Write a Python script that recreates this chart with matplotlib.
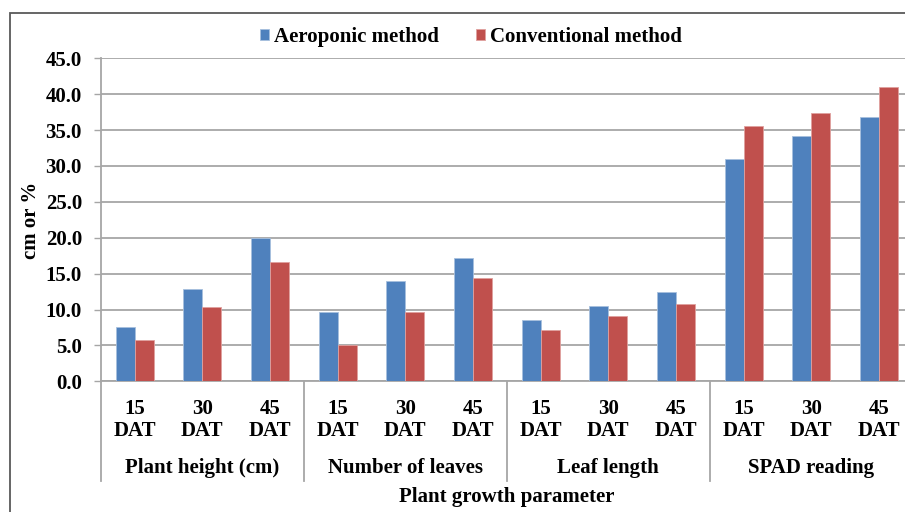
import matplotlib
matplotlib.use("Agg")
import matplotlib.pyplot as plt
import matplotlib.transforms as mtransforms
from matplotlib.patches import Rectangle
import numpy as np

# data
groups = ["Plant height (cm)", "Number of leaves", "Leaf length", "SPAD reading"]
days = ["15\nDAT", "30\nDAT", "45\nDAT"]
aeroponic = [7.6, 12.8, 20.0, 9.6, 14.0, 17.2, 8.5, 10.5, 12.5, 31.0, 34.2, 36.8]
conventional = [5.7, 10.4, 16.6, 5.0, 9.6, 14.4, 7.2, 9.1, 10.8, 35.6, 37.4, 41.0]

plt.rcParams['font.family'] = ['Liberation Serif', 'DejaVu Serif']
plt.rcParams['font.weight'] = 'bold'

blue = '#4F81BD'
red = '#C0504D'
grey = '#A6A6A6'
fs = 15

fig = plt.figure(figsize=(9.05, 5.12), dpi=100)
ax = fig.add_axes([0.1113, 0.2553, 0.8975, 0.6309])

x = np.arange(len(aeroponic))
w = 0.28
ax.bar(x - w/2, aeroponic, w, color=blue, edgecolor='#A7C0DE', linewidth=0.6,
       label='Aeroponic method', zorder=3)
ax.bar(x + w/2, conventional, w, color=red, edgecolor='#E0A09E', linewidth=0.6,
       label='Conventional method', zorder=3)

ax.set_xlim(-0.5, 11.5)
ax.set_ylim(0, 45)
ax.set_yticks(np.arange(0, 46, 5))
ax.set_yticklabels(['%.1f' % v for v in np.arange(0, 46, 5)], fontsize=fs, fontweight='bold')
ax.yaxis.grid(True, color=grey, linewidth=1.3, zorder=0)
ax.set_axisbelow(True)
ax.tick_params(axis='y', length=5, width=1, color=grey, pad=8.5)

ax.set_xticks(x)
ax.set_xticklabels(days * len(groups), fontsize=fs, fontweight='bold', linespacing=1.1)
ax.tick_params(axis='x', length=0, pad=13)

for s in ['top', 'right']:
    ax.spines[s].set_visible(False)
for s in ['left', 'bottom']:
    ax.spines[s].set_color(grey)
    ax.spines[s].set_linewidth(1.3)

trans = mtransforms.blended_transform_factory(ax.transData, ax.transAxes)
for b in [-0.5, 2.5, 5.5, 8.5, 11.5]:
    ax.plot([b, b], [0, -0.308], transform=trans, color=grey, linewidth=1.3, clip_on=False)
for i, g in enumerate(groups):
    ax.text(3*i + 1, -0.269, g, transform=trans, ha='center', va='center',
            fontsize=fs, fontweight='bold')

ax.text(0.5, -0.359, 'Plant growth parameter', transform=ax.transAxes,
        ha='center', va='center', fontsize=fs, fontweight='bold')
fig.text(31/905, 1 - 220/512, 'cm or %', rotation=90, ha='center', va='center',
         fontsize=fs, fontweight='bold')

fig.legend(loc='center', bbox_to_anchor=(471/905, 1 - 37/512), ncol=2, frameon=False,
           fontsize=fs, handlelength=0.4, handleheight=0.4, handletextpad=0.25,
           columnspacing=1.8, borderpad=0)

# chart area border
fig.patches.append(Rectangle((10/905, -0.1), 1.2, 1.1 - 12.7/512, transform=fig.transFigure,
                             fill=False, edgecolor='#595959', linewidth=1.3))

fig.savefig('out.png', dpi=100)
